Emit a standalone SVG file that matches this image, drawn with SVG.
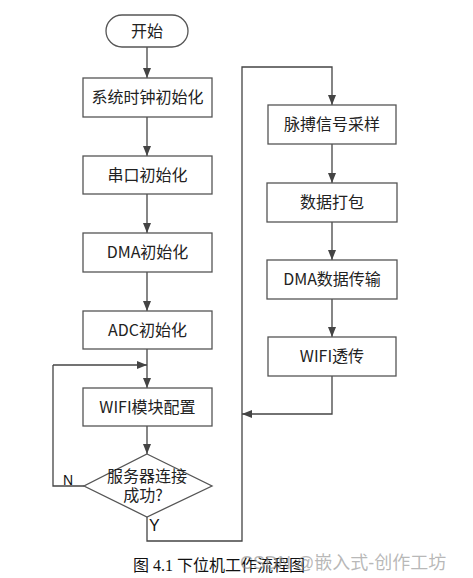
<svg xmlns="http://www.w3.org/2000/svg" width="473" height="578" viewBox="0 0 473 578">
<style>
.box{fill:#fff;stroke:#555;stroke-width:1.3}
.t{font-family:"Noto Sans CJK SC","Liberation Sans",sans-serif;font-size:16px;fill:#222;text-anchor:middle}
.w{font-family:"Liberation Sans","Noto Sans CJK SC",sans-serif}
.ln{fill:none;stroke:#444;stroke-width:1.3}
</style>
<defs>
<marker id="ah" viewBox="0 0 10 10" refX="10" refY="5" markerWidth="10" markerHeight="10" markerUnits="userSpaceOnUse" orient="auto">
<path d="M0,1 L10,5 L0,9 Z" fill="#444"/>
</marker>
</defs>
<rect width="473" height="578" fill="#fff"/>
<g id="connectors">
<path class="ln" d="M147,47 V78" marker-end="url(#ah)"/>
<path class="ln" d="M147,117 V156" marker-end="url(#ah)"/>
<path class="ln" d="M147,194 V233" marker-end="url(#ah)"/>
<path class="ln" d="M147,272 V311" marker-end="url(#ah)"/>
<path class="ln" d="M147,349 V388" marker-end="url(#ah)"/>
<path class="ln" d="M53,365 H147" marker-end="url(#ah)"/>
<path class="ln" d="M147,426 V454" marker-end="url(#ah)"/>
<path class="ln" d="M84,486 H53 V365"/>
<path class="ln" d="M147,517 V541 H242 V67 H332 V105" marker-end="url(#ah)"/>
<path class="ln" d="M332,144 V183" marker-end="url(#ah)"/>
<path class="ln" d="M332,222 V260" marker-end="url(#ah)"/>
<path class="ln" d="M332,299 V337" marker-end="url(#ah)"/>
<path class="ln" d="M332,376 V414 H242" marker-end="url(#ah)"/>
<text x="63" y="485" class="w" font-size="14" fill="#111">N</text>
<text x="149" y="531" class="w" font-size="16" fill="#111">Y</text>
</g>
<g id="start"><rect class="box" x="106" y="15" width="82" height="32" rx="16"/><text class="t" x="147" y="37">开始</text></g>
<g id="n1"><rect class="box" x="83" y="78" width="129" height="39"/><text class="t" x="147.5" y="103">系统时钟初始化</text></g>
<g id="n2"><rect class="box" x="83" y="156" width="129" height="38"/><text class="t" x="147.5" y="181">串口初始化</text></g>
<g id="n3"><rect class="box" x="83" y="233" width="129" height="39"/><text class="t" x="147.5" y="258">DMA初始化</text></g>
<g id="n4"><rect class="box" x="83" y="311" width="129" height="38"/><text class="t" x="147.5" y="336">ADC初始化</text></g>
<g id="n5"><rect class="box" x="83" y="388" width="129" height="38"/><text class="t" x="147.5" y="413">WIFI模块配置</text></g>
<g id="d1"><path class="box" d="M147,454 L212,486 L147,517 L84,486 Z"/><text class="t" x="147" y="482" font-size="15">服务器连接</text><text class="t" x="143" y="501" font-size="15">成功?</text></g>
<g id="r1"><rect class="box" x="268" y="105" width="128" height="39"/><text class="t" x="332" y="130">脉搏信号采样</text></g>
<g id="r2"><rect class="box" x="267" y="183" width="130" height="39"/><text class="t" x="332" y="208">数据打包</text></g>
<g id="r3"><rect class="box" x="267" y="260" width="130" height="39"/><text class="t" x="332" y="285">DMA数据传输</text></g>
<g id="r4"><rect class="box" x="268" y="337" width="128" height="39"/><text class="t" x="332" y="362">WIFI透传</text></g>
<text x="133" y="571" font-family="Liberation Serif,'Noto Sans CJK SC',serif" font-size="16" fill="#111">图 4.1 下位机工作流程图</text>
<text x="240" y="569" font-family="'Liberation Sans','Noto Sans CJK SC',sans-serif" font-size="18" fill="#888" fill-opacity="0.6">CSDN @嵌入式-创作工坊</text>
</svg>
